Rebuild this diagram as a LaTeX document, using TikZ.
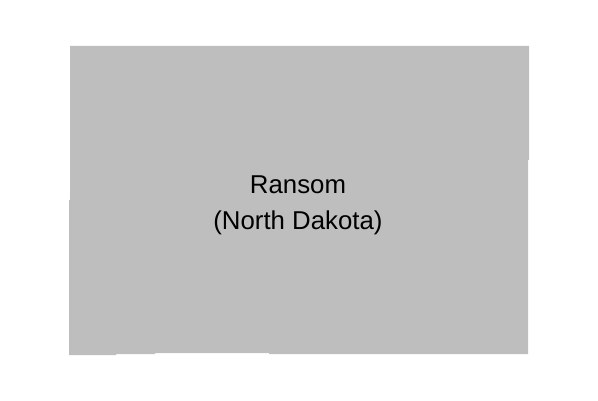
\documentclass[tikz,border=0pt]{standalone}
\usepackage{fontspec}
\setmainfont{Liberation Sans}
\definecolor{countygray}{HTML}{BEBEBE}
\tikzset{
    county/.style={fill=countygray, draw=none},
    countylabel/.style={align=center, text=black, inner sep=0pt, font=\fontsize{25.8}{36}\selectfont}
}
\begin{document}
\begin{tikzpicture}[x=1pt, y=-1pt]
    \useasboundingbox (0,0) rectangle (598,401);
    \fill[county] (70,46) -- (529,46) -- (529,160) -- (528,160) -- (528,354)
        -- (269,354) -- (269,353) -- (155,353) -- (155,354) -- (116,354)
        -- (116,355) -- (69,355) -- (69,200) -- (70,200) -- cycle;
    \node[countylabel] (ransom) at (298,205) {Ransom\\(North Dakota)};
\end{tikzpicture}
\end{document}
